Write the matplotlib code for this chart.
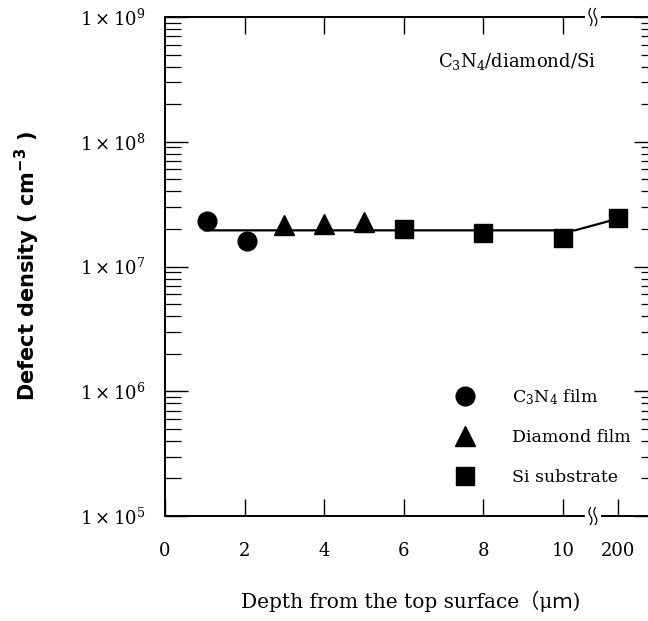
import numpy as np
import matplotlib

matplotlib.use("Agg")
import matplotlib.pyplot as plt  # noqa: E402
from matplotlib.lines import Line2D  # noqa: E402
from matplotlib.ticker import FixedLocator, LogLocator, NullFormatter  # noqa: E402

# values (depth in um, density in cm^-3)
c3n4_depth = [1.05, 2.05]
c3n4_density = [2.3e7, 1.6e7]
diamond_depth = [3.0, 4.0, 5.0]
diamond_density = [2.15e7, 2.2e7, 2.27e7]
si_depth = [6.0, 8.0, 10.0, 200.0]
si_density = [2.0e7, 1.86e7, 1.68e7, 2.45e7]
fit_depth = [1.0, 10.3, 200.0]
fit_density = [1.95e7, 1.95e7, 2.42e7]

x_ticks = [0, 2, 4, 6, 8, 10, 200]
x_tick_labels = ["0", "2", "4", "6", "8", "10", "200"]
y_ticks = [1e5, 1e6, 1e7, 1e8, 1e9]

# broken axis: 0-10 linear, then the 200 um point placed after the break
BREAK_AT = 10.75
POS_200 = 11.38
X_MAX = 12.36


def x_pos(depth):
    d = np.asarray(depth, dtype=float)
    return np.where(d > 100, POS_200, d)


plt.rcParams["font.family"] = ["DejaVu Serif", "Noto Sans CJK JP"]
plt.rcParams["mathtext.fontset"] = "dejavuserif"

fig = plt.figure(figsize=(6.48, 6.21), dpi=100)
ax = fig.add_axes([0.2546, 0.169, 0.7593, 0.8036])

ax.plot(x_pos(fit_depth), fit_density, color="black", lw=1.6, zorder=2)
ax.plot(x_pos(c3n4_depth), c3n4_density, "o", color="black", ms=13.5, zorder=3)
ax.plot(x_pos(diamond_depth), diamond_density, "^", color="black", ms=14, zorder=3)
ax.plot(x_pos(si_depth), si_density, "s", color="black", ms=13.5, zorder=3)

ax.set_yscale("log")
ax.set_ylim(1e5, 1e9)
ax.set_xlim(0, X_MAX)

ax.xaxis.set_major_locator(FixedLocator(x_pos(x_ticks)))
ax.set_xticklabels(x_tick_labels)
ax.yaxis.set_major_locator(FixedLocator(y_ticks))
ax.yaxis.set_minor_locator(LogLocator(base=10, subs=np.arange(2, 10)))
ax.yaxis.set_minor_formatter(NullFormatter())
ax.set_yticklabels([r"$1\times10^{%d}$" % int(np.log10(v)) for v in y_ticks])

ax.tick_params(axis="x", which="major", direction="in", length=12, width=1.0,
               labelsize=13, pad=19, top=False)
ax.tick_params(axis="x", which="minor", bottom=False, top=False)
ax.tick_params(axis="y", which="major", direction="in", length=16.5, width=1.0,
               labelsize=13, pad=14, right=True)
ax.tick_params(axis="y", which="minor", direction="in", length=11.5, width=0.9,
               right=True)

top = ax.secondary_xaxis("top")
top.set_xticks(x_pos(x_ticks[1:-1]))
top.tick_params(direction="in", length=12, width=1.0, labeltop=False)
top.spines["top"].set_linewidth(1.4)

for side in ["left", "bottom", "top", "right"]:
    ax.spines[side].set_linewidth(1.4)

# break marks on top and bottom spines
bx = BREAK_AT / X_MAX
t = np.linspace(-1, 1, 20)
for yb in (0.0, 1.0):
    ax.plot([bx - 0.012, bx + 0.012], [yb, yb], color="white", lw=3,
            transform=ax.transAxes, clip_on=False, zorder=5)
    for dx in (-0.005, 0.005):
        ax.plot(bx + dx - 0.003 * np.sin(t * np.pi), yb + 0.017 * t,
                color="black", lw=0.9, transform=ax.transAxes,
                clip_on=False, zorder=6)

ax.set_xlabel("Depth from the top surface（μｍ)", fontsize=14.5, labelpad=22)
ax.set_ylabel(r"Defect density ( cm$^{\mathbf{-3}}$ )", fontsize=15,
              fontweight="bold", family="DejaVu Sans",
              math_fontfamily="dejavusans", labelpad=27)

ax.text(0.876, 0.91, r"C$_3$N$_4$/diamond/Si", transform=ax.transAxes,
        ha="right", va="center", fontsize=13)

handles = [
    Line2D([], [], ls="none", marker="o", color="black", ms=13.5),
    Line2D([], [], ls="none", marker="^", color="black", ms=14),
    Line2D([], [], ls="none", marker="s", color="black", ms=13.5),
]
labels = [r"C$_3$N$_4$ film", "Diamond film", "Si substrate"]
ax.legend(handles, labels, loc="upper left", bbox_to_anchor=(0.584, 0.259),
          frameon=False, fontsize=12.5, handlelength=1.5, handletextpad=1.95,
          labelspacing=1.3, borderpad=0, borderaxespad=0, numpoints=1)

fig.savefig("out.png", dpi=100)
